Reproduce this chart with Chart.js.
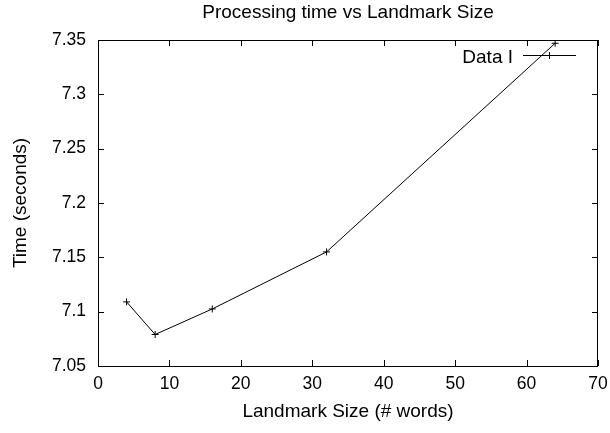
<!DOCTYPE html>
<html>
<head>
<meta charset="utf-8">
<script src="https://cdn.jsdelivr.net/npm/chart.js@4"></script>
<style>
  html, body { margin: 0; padding: 0; background: #fff; }
  #wrap { width: 610px; height: 433px; }
</style>
</head>
<body>
<div id="wrap"><canvas id="chart" width="610" height="433"></canvas></div>
<script>
// data
const landmarkSizes = [4, 8, 16, 32, 64];
const timeSeconds   = [7.109, 7.079, 7.1025, 7.155, 7.347];
const xTicks = [0, 10, 20, 30, 40, 50, 60, 70];
const yTicks = [7.05, 7.1, 7.15, 7.2, 7.25, 7.3, 7.35];

const seriesLabel = "Data I";
const chartTitle  = "Processing time vs Landmark Size";
const FONT = "'Liberation Sans', Arial, Helvetica, sans-serif";

// gnuplot-ish frame: box, inward ticks on all four sides, title, key
const gnuplotFrame = {
  id: "gnuplotFrame",
  afterDraw(chart) {
    const { ctx, chartArea: a, scales } = chart;
    const xs = scales.x, ys = scales.y;
    const tl = 6;
    ctx.save();
    ctx.strokeStyle = "#000";
    ctx.lineWidth = 1;
    ctx.beginPath();
    ctx.rect(Math.round(a.left) + 0.5, Math.round(a.top) + 0.5,
             Math.round(a.right - a.left) - 1, Math.round(a.bottom - a.top));
    ctx.stroke();

    ctx.beginPath();
    xTicks.forEach(v => {
      const px = Math.round(xs.getPixelForValue(v)) + 0.5;
      ctx.moveTo(px, a.bottom); ctx.lineTo(px, a.bottom - tl);
      ctx.moveTo(px, a.top);    ctx.lineTo(px, a.top + tl);
    });
    yTicks.forEach(v => {
      const py = Math.round(ys.getPixelForValue(v)) + 0.5;
      ctx.moveTo(a.left, py);  ctx.lineTo(a.left + tl, py);
      ctx.moveTo(a.right, py); ctx.lineTo(a.right - tl, py);
    });
    ctx.stroke();

    // title
    ctx.fillStyle = "#000";
    ctx.font = "19px " + FONT;
    ctx.textAlign = "center";
    ctx.textBaseline = "middle";
    ctx.fillText(chartTitle, (a.left + a.right) / 2, 13);

    // key (top right, inside)
    const ky = 55.5;
    ctx.textAlign = "right";
    ctx.fillText(seriesLabel, 513, ky + 2);
    ctx.beginPath();
    ctx.moveTo(523, ky); ctx.lineTo(576, ky);
    ctx.moveTo(549.5, ky - 3.5); ctx.lineTo(549.5, ky + 3.5);
    ctx.moveTo(546, ky); ctx.lineTo(553, ky);
    ctx.stroke();
    ctx.restore();
  }
};

new Chart(document.getElementById("chart"), {
  type: "scatter",
  data: {
    datasets: [{
      label: seriesLabel,
      data: landmarkSizes.map((x, i) => ({ x, y: timeSeconds[i] })),
      showLine: true,
      borderColor: "#000",
      borderWidth: 1,
      pointStyle: "cross",
      pointRadius: 3.5,
      pointBorderColor: "#000",
      pointBorderWidth: 1,
      pointBackgroundColor: "#000"
    }]
  },
  options: {
    responsive: false,
    animation: false,
    devicePixelRatio: 1,
    layout: { padding: { top: 40, right: 12, left: 0, bottom: 0 } },
    plugins: {
      legend: { display: false },
      title: { display: false },
      tooltip: { enabled: false }
    },
    scales: {
      x: {
        type: "linear",
        min: 0, max: 70,
        afterBuildTicks: s => { s.ticks = xTicks.map(v => ({ value: v })); },
        afterFit: s => { s.height = 67; s.paddingLeft = 0; s.paddingRight = 0; },
        grid: { display: false, drawTicks: false },
        border: { display: false },
        ticks: { color: "#000", padding: 8, font: { family: FONT, size: 17.5 } },
        title: {
          display: true, text: "Landmark Size (# words)", color: "#000",
          font: { family: FONT, size: 19 }, padding: { top: 0, bottom: 10 }
        }
      },
      y: {
        type: "linear",
        min: 7.05, max: 7.35,
        afterBuildTicks: s => { s.ticks = yTicks.map(v => ({ value: v })); },
        afterFit: s => { s.width = 98; s.paddingTop = 0; s.paddingBottom = 0; },
        grid: { display: false, drawTicks: false },
        border: { display: false },
        ticks: {
          color: "#000", padding: 12, font: { family: FONT, size: 17.5 },
          callback: v => String(+v.toFixed(2))
        },
        title: {
          display: true, text: "Time (seconds)", color: "#000",
          font: { family: FONT, size: 19 }, padding: { top: 9, bottom: 0 }
        }
      }
    }
  },
  plugins: [gnuplotFrame]
});
</script>
</body>
</html>
